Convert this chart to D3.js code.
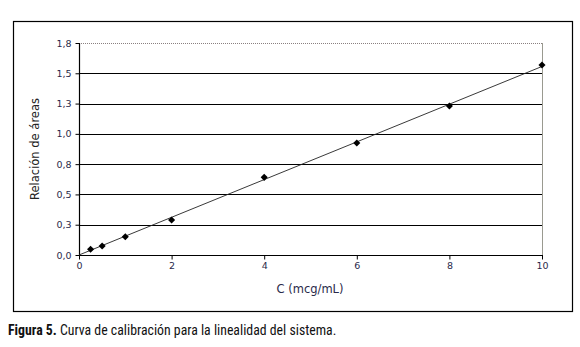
<!DOCTYPE html>
<html>
<head>
<meta charset="utf-8">
<script src="https://cdn.jsdelivr.net/npm/d3@7"></script>
<style>
  body { margin: 0; background: #fff; }
  .tick text { font-family: "DejaVu Sans", Verdana, sans-serif; font-size: 9.5px; fill: #2a2a4a; }
</style>
</head>
<body>
<script>
//data
var concentrations = [0.25, 0.5, 1, 2, 4, 6, 8, 10];
var areaRatios = [0.047, 0.074, 0.151, 0.289, 0.641, 0.925, 1.23, 1.568];
var yTickValues = [0, 0.25, 0.5, 0.75, 1, 1.25, 1.5, 1.75];
var yTickLabels = ["0,0", "0,3", "0,5", "0,8", "1,0", "1,3", "1,5", "1,8"];
var xTickValues = [0, 2, 4, 6, 8, 10];

var width = 580, height = 347;
var plot = {left: 79, right: 542, top: 43, bottom: 255};

var svg = d3.select("body").append("svg")
    .attr("width", width)
    .attr("height", height);

//outer frame
svg.append("rect")
    .attr("x", 13.5).attr("y", 21.5)
    .attr("width", 559).attr("height", 290)
    .attr("fill", "none")
    .attr("stroke", "#000")
    .attr("stroke-width", 1.2);

var x = d3.scaleLinear().domain([0, 10]).range([plot.left, plot.right]);
var y = d3.scaleLinear().domain([0, 1.75]).range([plot.bottom, plot.top]);

//gridlines
svg.selectAll(".grid")
    .data(yTickValues.slice(1, -1))
    .enter()
    .append("line")
    .attr("x1", plot.left).attr("x2", plot.right)
    .attr("y1", function(d){ return Math.round(y(d)) + 0.5; })
    .attr("y2", function(d){ return Math.round(y(d)) + 0.5; })
    .attr("stroke", "#000")
    .attr("stroke-width", 1.1);

//plot area border (top dotted, right grey)
svg.append("line")
    .attr("x1", plot.left).attr("x2", plot.right)
    .attr("y1", plot.top + 0.5).attr("y2", plot.top + 0.5)
    .attr("stroke", "#8a8080")
    .attr("stroke-dasharray", "1,1");
svg.append("line")
    .attr("x1", plot.right + 0.5).attr("x2", plot.right + 0.5)
    .attr("y1", plot.top).attr("y2", plot.bottom)
    .attr("stroke", "#9a9a90");

//axes
var yAxis = d3.axisLeft(y)
    .tickValues(yTickValues)
    .tickFormat(function(d, i){ return yTickLabels[i]; })
    .tickSize(4)
    .tickPadding(4);
var xAxis = d3.axisBottom(x)
    .tickValues(xTickValues)
    .tickSize(4)
    .tickPadding(3);

var gy = svg.append("g")
    .attr("transform", "translate(" + (plot.left + 0.5) + ",0)")
    .call(yAxis);
var gx = svg.append("g")
    .attr("transform", "translate(0," + (plot.bottom + 0.5) + ")")
    .call(xAxis);
gy.select(".domain").remove();
gx.select(".domain").remove();
svg.append("line")
    .attr("x1", plot.left + 0.5).attr("x2", plot.left + 0.5)
    .attr("y1", plot.top).attr("y2", plot.bottom + 1)
    .attr("stroke", "#000").attr("stroke-width", 1.2);
svg.append("line")
    .attr("x1", plot.left).attr("x2", plot.right + 1)
    .attr("y1", plot.bottom + 0.5).attr("y2", plot.bottom + 0.5)
    .attr("stroke", "#000").attr("stroke-width", 1.2);

//linear trend line (least squares over the points)
var mx = d3.mean(concentrations), my = d3.mean(areaRatios);
var sxy = d3.sum(concentrations, function(c, i){ return (c - mx) * (areaRatios[i] - my); });
var sxx = d3.sum(concentrations, function(c){ return (c - mx) * (c - mx); });
var slope = sxy / sxx, intercept = my - slope * mx;
svg.append("line")
    .attr("x1", x(0)).attr("y1", y(Math.max(intercept, 0)))
    .attr("x2", x(10)).attr("y2", y(intercept + slope * 10))
    .attr("stroke", "#222")
    .attr("stroke-width", 0.9);

//markers
svg.selectAll(".pt")
    .data(concentrations)
    .enter()
    .append("path")
    .attr("class", "pt")
    .attr("d", d3.symbol().type(d3.symbolDiamond2).size(32))
    .attr("transform", function(d, i){ return "translate(" + x(d) + "," + y(areaRatios[i]) + ")"; })
    .attr("fill", "#000");

//axis titles
svg.append("text")
    .attr("x", 310).attr("y", 293)
    .attr("text-anchor", "middle")
    .attr("font-family", "DejaVu Sans, sans-serif")
    .attr("font-size", 11.5)
    .attr("fill", "#2a2a4a")
    .text("C (mcg/mL)");
svg.append("text")
    .attr("transform", "translate(39,149) rotate(-90)")
    .attr("text-anchor", "middle")
    .attr("font-family", "DejaVu Sans, sans-serif")
    .attr("font-size", 11.5)
    .attr("fill", "#222")
    .text("Relación de áreas");

//caption
var cap = svg.append("text")
    .attr("x", 8).attr("y", 335)
    .attr("font-family", "Liberation Sans Narrow, Roboto Condensed, sans-serif")
    .attr("font-size", 13.8)
    .attr("fill", "#111");
cap.append("tspan").attr("font-weight", "bold").text("Figura 5.");
cap.append("tspan").text(" Curva de calibración para la linealidad del sistema.");
</script>
</body>
</html>
